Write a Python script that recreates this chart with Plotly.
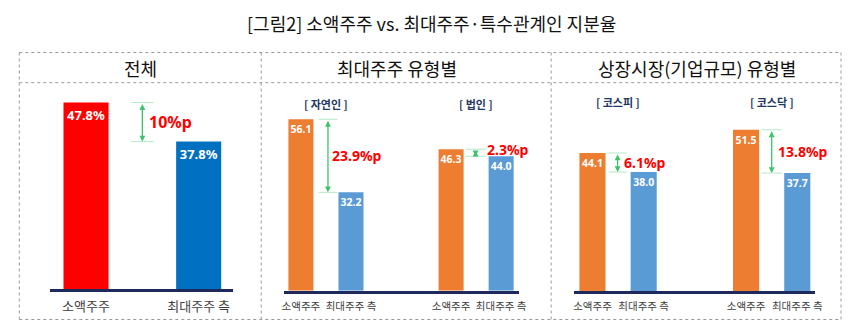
import plotly.graph_objects as go

# ---------------- data ----------------
title_text = "[그림2] 소액주주 vs. 최대주주·특수관계인 지분율"
section_titles = ["전체", "최대주주 유형별", "상장시장(기업규모) 유형별"]

cat_labels = ["소액주주", "최대주주 측"]

# panel 1: overall
total_values = [47.8, 37.8]
total_gap = "10%p"

# panel 2: by largest-shareholder type
owner_groups = ["[ 자연인 ]", "[ 법인 ]"]
owner_minority = [56.1, 46.3]
owner_largest = [32.2, 44.0]
owner_gaps = ["23.9%p", "2.3%p"]

# panel 3: by market
market_groups = ["[ 코스피 ]", "[ 코스닥 ]"]
market_minority = [44.1, 51.5]
market_largest = [38.0, 37.7]
market_gaps = ["6.1%p", "13.8%p"]

# ---------------- styling ----------------
W, H = 852, 328
FONT = "Noto Sans CJK KR"
RED, BLUE = "#FF0000", "#0070C0"
ORANGE, LBLUE = "#ED7D31", "#5B9BD5"
NAVY = "#1F2A5C"
GREEN = "#3CC46A"
LGREEN = "#B3EBC6"
GRAY_TXT = "#404040"
SUB_COLOR = "#1F3864"


def px_x(p):
    return p / W


def px_y(p):
    return 1 - p / H


fig = go.Figure()

# panel geometry: (x domain px, baseline px, px per unit, x range)
panels = {
    1: dict(xd=(49, 234), base=289.0, ppu=3.9, xr=(-0.316, 1.307)),
    2: dict(xd=(285, 523.3), base=290.7, ppu=3.055, xr=(-0.345, 4.36)),
    3: dict(xd=(579, 822.7), base=291.0, ppu=3.13, xr=(-0.357, 4.347)),
}
TOP_PX = 92

for i, p in panels.items():
    ymax = (p["base"] - TOP_PX) / p["ppu"]
    xa = "xaxis" if i == 1 else f"xaxis{i}"
    ya = "yaxis" if i == 1 else f"yaxis{i}"
    fig.layout[xa] = dict(
        domain=[px_x(p["xd"][0]), px_x(p["xd"][1])],
        range=list(p["xr"]), showgrid=False, zeroline=False,
        showline=True, linecolor=NAVY, linewidth=2.5,
        ticks="outside", ticklen=4, tickcolor="rgba(0,0,0,0)",
        anchor="y" if i == 1 else f"y{i}", fixedrange=True,
    )
    fig.layout[ya] = dict(
        domain=[px_y(p["base"]), px_y(TOP_PX)],
        range=[0, ymax], visible=False,
        anchor="x" if i == 1 else f"x{i}", fixedrange=True,
    )

# ---- panel 1 bars ----
fig.add_trace(go.Bar(
    x=[0, 1], y=total_values, width=0.40,
    marker=dict(color=[RED, BLUE], line=dict(width=0)),
    text=[f"{v:.1f}%" for v in total_values],
    textposition="inside", insidetextanchor="end", textangle=0, constraintext="none",
    insidetextfont=dict(family="Noto Sans", size=13, color="white", weight="bold"),
    xaxis="x", yaxis="y", showlegend=False, hoverinfo="skip",
))
fig.layout.xaxis.update(tickvals=[0, 1], ticktext=cat_labels,
                        tickfont=dict(family=FONT, size=13, color=GRAY_TXT))


def add_group(xref, yref, xs_min, xs_max, minority, largest, width, vfont):
    fig.add_trace(go.Bar(
        x=xs_min, y=minority, width=width,
        marker=dict(color=ORANGE, line=dict(width=0)),
        text=[f"{v:.1f}" for v in minority],
        textposition="inside", insidetextanchor="end", textangle=0, constraintext="none",
        insidetextfont=dict(family="Noto Sans", size=vfont, color="white", weight="bold"),
        xaxis=xref, yaxis=yref, showlegend=False, hoverinfo="skip",
    ))
    fig.add_trace(go.Bar(
        x=xs_max, y=largest, width=width,
        marker=dict(color=LBLUE, line=dict(width=0)),
        text=[f"{v:.1f}" for v in largest],
        textposition="inside", insidetextanchor="end", textangle=0, constraintext="none",
        insidetextfont=dict(family="Noto Sans", size=vfont, color="white", weight="bold"),
        xaxis=xref, yaxis=yref, showlegend=False, hoverinfo="skip",
    ))


add_group("x2", "y2", [0, 3], [1, 4], owner_minority, owner_largest, 0.5, 10.5)
add_group("x3", "y3", [0, 3], [1, 4], market_minority, market_largest, 0.51, 10.5)
for ax in ("xaxis2", "xaxis3"):
    fig.layout[ax].update(tickvals=[0, 1, 3, 4], ticktext=cat_labels * 2,
                          tickfont=dict(family=FONT, size=10.5, color=GRAY_TXT))

annotations = []
shapes = []


def gap_marker(xref, yref, xc, hi, lo, text, tick_half, fsize, xshift, yshift=0):
    # horizontal guide ticks
    for yv in (hi, lo):
        shapes.append(dict(type="line", xref=xref, yref=yref,
                           x0=xc - tick_half, x1=xc + tick_half, y0=yv, y1=yv,
                           line=dict(color=LGREEN, width=1)))
    annotations.append(dict(
        xref=xref, yref=yref, axref=xref, ayref=yref,
        x=xc, y=lo, ax=xc, ay=hi, text="", showarrow=True,
        arrowside="end+start", arrowhead=2, arrowsize=0.9, arrowwidth=1.3,
        arrowcolor=GREEN, standoff=0, startstandoff=0,
    ))
    annotations.append(dict(
        xref=xref, yref=yref, x=xc, y=(hi + lo) / 2, text=f"<b>{text}</b>",
        showarrow=False, xanchor="left", yanchor="middle", xshift=xshift, yshift=yshift,
        font=dict(family="Noto Sans", size=fsize, color="#FF0000"),
    ))


gap_marker("x", "y", 0.5, total_values[0], total_values[1], total_gap, 0.10, 16, 5)
gap_marker("x2", "y2", 0.54, owner_minority[0], owner_largest[0], owner_gaps[0], 0.19, 14, 2)
gap_marker("x2", "y2", 3.49, owner_minority[1], owner_largest[1], owner_gaps[1], 0.2, 14, 9, 3)
gap_marker("x3", "y3", 0.49, market_minority[0], market_largest[0], market_gaps[0], 0.18, 14, 4)
gap_marker("x3", "y3", 3.5, market_minority[1], market_largest[1], market_gaps[1], 0.2, 14, 4)

# group subtitles
for xref, groups, ypx in (("x2", owner_groups, 104), ("x3", market_groups, 102)):
    for k, g in enumerate(groups):
        annotations.append(dict(
            xref=xref, yref="paper", x=0.5 + 3 * k, y=px_y(ypx), text=f"<b>{g}</b>",
            showarrow=False, xanchor="center", yanchor="middle",
            font=dict(family=FONT, size=11, color=SUB_COLOR),
        ))

# title and section headers
annotations.append(dict(xref="paper", yref="paper", x=px_x(435), y=px_y(23),
                        text=title_text, showarrow=False, xanchor="center", yanchor="middle",
                        font=dict(family=FONT, size=18, color="#111111")))
for txt, cx in zip(section_titles, (140, 400, 703)):
    annotations.append(dict(xref="paper", yref="paper", x=px_x(cx), y=px_y(68),
                            text=txt, showarrow=False, xanchor="center", yanchor="middle",
                            font=dict(family=FONT, size=18, color="#111111")))

# table frame (dotted)
L, R, T, B, HL = 17.5, 849, 52.5, 319.5, 82.7
frame = dict(color="#9A9A9A", width=1, dash="dot")
for (x0, y0, x1, y1) in [
    (L, T, R, T), (L, B, R, B), (L, T, L, B), (R, T, R, B), (L, HL, R, HL),
    (262.3, T, 262.3, B), (555.7, T, 555.7, B),
]:
    shapes.append(dict(type="line", xref="paper", yref="paper",
                       x0=px_x(x0), y0=px_y(y0), x1=px_x(x1), y1=px_y(y1), line=frame))

fig.update_layout(
    width=W, height=H, margin=dict(l=0, r=0, t=0, b=0),
    paper_bgcolor="white", plot_bgcolor="rgba(0,0,0,0)",
    annotations=annotations, shapes=shapes, barmode="overlay",
    font=dict(family=FONT),
)

fig.write_html("out.html", config={"displayModeBar": False})
